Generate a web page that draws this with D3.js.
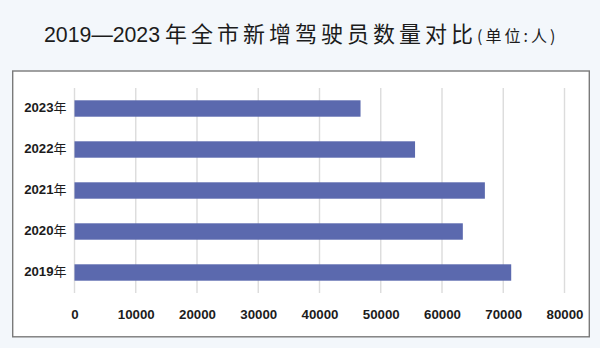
<!DOCTYPE html>
<html><head><meta charset="utf-8">
<script src="https://cdn.jsdelivr.net/npm/d3@7"></script>
<style>
html,body{margin:0;padding:0;background:#f3f7fb;}
svg{display:block;}
</style></head>
<body>
<svg id="c" width="600" height="348"></svg>
<script>
const years = ["2023", "2022", "2021", "2020", "2019"];
const drivers = [46700, 55600, 67000, 63400, 71300];
const xTicks = [0, 10000, 20000, 30000, 40000, 50000, 60000, 70000, 80000];
const titleMain = "2019—2023";
const titleCJK = "年全市新增驾驶员数量对比";
const titleUnit = "(单位:人)";
const yearSuffix = "年";

const svg = d3.select("#c");
svg.append("rect").attr("width",600).attr("height",348).attr("fill","#f3f7fb");

// frame
svg.append("rect").attr("x",12.7).attr("y",71).attr("width",576.6).attr("height",265.8)
  .attr("fill","#ffffff").attr("stroke","#7a7a7a").attr("stroke-width",1.4);

// title
const t = svg.append("text").attr("x",44).attr("y",42).attr("fill","#1c1c1c")
  .style("font-family","'Liberation Sans','Noto Sans CJK SC',sans-serif");
t.append("tspan").style("font-size","21.3px").text(titleMain);
t.append("tspan").attr("dx",5).style("font-size","22px").style("font-family","'Noto Sans CJK SC',sans-serif")
  .style("letter-spacing","4px").text(titleCJK);
t.append("tspan").attr("dx",0).style("font-size","16px").style("font-family","'Noto Sans CJK SC',sans-serif")
  .style("letter-spacing","3px").text(titleUnit);

const x = d3.scaleLinear().domain([0,80000]).range([74.5,564.5]);
const y = d3.scaleBand().domain(years).range([88,293]).paddingInner(0.6).paddingOuter(0.3);

// grid
svg.append("g").selectAll("line").data(xTicks).join("line")
  .attr("x1",d=>x(d)).attr("x2",d=>x(d)).attr("y1",88).attr("y2",293)
  .attr("stroke","#dcdcdc").attr("stroke-width",1.4);

// bars
svg.append("g").selectAll("rect").data(years).join("rect")
  .attr("x",x(0)).attr("y",d=>y(d))
  .attr("width",(d,i)=>x(drivers[i])-x(0)).attr("height",y.bandwidth())
  .attr("fill","#5b69ae");

// x axis labels
const xa = d3.axisBottom(x).tickValues(xTicks).tickSize(0).tickPadding(0).tickFormat(d3.format("d"));
const gx = svg.append("g").attr("transform","translate(0,319)").call(xa);
gx.select(".domain").remove();
gx.selectAll("text").attr("dy",0).attr("fill","#1c1c1c")
  .style("font-family","'Liberation Sans',sans-serif").style("font-size","13.3px").style("font-weight","bold");

// y axis labels
const ya = d3.axisLeft(y).tickSize(0).tickPadding(8).tickFormat(d=>d);
const gy = svg.append("g").attr("transform",`translate(${x(0)},0)`).call(ya);
gy.select(".domain").remove();
gy.selectAll("text").each(function(d){
  const el = d3.select(this);
  el.text(null).attr("fill","#1c1c1c").attr("dy","0.36em");
  el.append("tspan").style("font-family","'Liberation Sans',sans-serif").style("font-size","13.2px")
    .style("font-weight","bold").text(d);
  el.append("tspan").style("font-family","'Noto Sans CJK SC',sans-serif").style("font-size","13px")
    .style("font-weight","normal").text(yearSuffix);
});
</script>
</body></html>
